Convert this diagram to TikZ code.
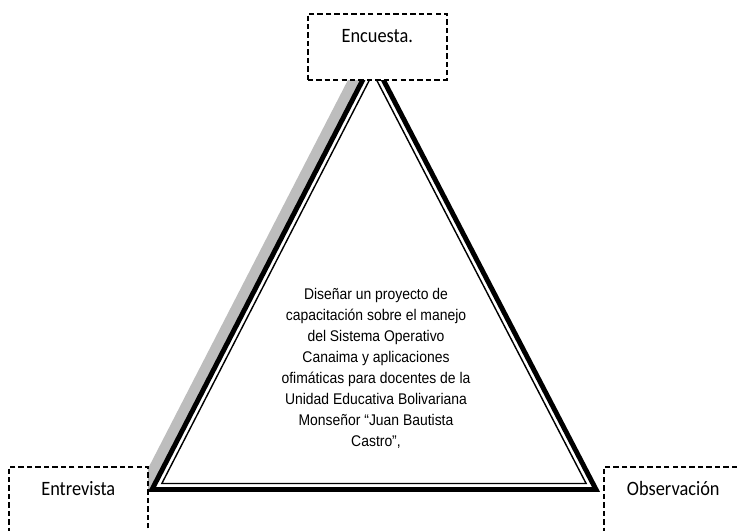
\documentclass[tikz,border=0pt]{standalone}
\usepackage{fontspec}
\setmainfont{Liberation Sans}
\newfontfamily\labelfont[FakeStretch=0.9]{Carlito}
\newfontfamily\goalfont[FakeStretch=0.9]{Liberation Sans}
\usetikzlibrary{calc}

\tikzset{
  method/.style={draw, dash pattern=on 3.8pt off 2.2pt, line width=1.1pt, fill=white,
    minimum width=3.475cm, inner sep=0pt, text height=0.725cm, text depth=0.925cm,
    font=\labelfont\fontsize{14.5}{16}\selectfont},
  rim/.style={line width=3.5pt, line join=miter},
  shade/.style={rim, draw=black!26, fill=black!26},
  goal/.style={align=center, font=\goalfont\fontsize{11}{14.9}\selectfont}
}

\begin{document}
\begin{tikzpicture}[x=0.025cm, y=-0.025cm]
    \useasboundingbox (0, 0) rectangle (738, 531);
    \clip (0, 0) rectangle (738, 531);

    \coordinate (top) at (373, 60);
    \coordinate (left) at (152, 489.5);
    \coordinate (right) at (596, 489.5);
    \coordinate (mid) at (373.5, 354.3);

    \pgfmathsetmacro{\inset}{0.9556}

    \draw[shade] ($(top)+(-12,0)$) -- ($(left)+(-12,0)$) -- ($(right)+(-12,0)$) -- cycle;
    \draw[rim, fill=white] (top) -- (left) -- (right) -- cycle;
    \draw[line width=1pt, line join=miter] ($(mid)!\inset!(top)$) -- ($(mid)!\inset!(left)$) -- ($(mid)!\inset!(right)$) -- cycle;

    \node[goal] (goal) at (376, 368.5) {Diseñar un proyecto de\\capacitación sobre el manejo\\del Sistema Operativo\\Canaima y aplicaciones\\ofimáticas para docentes de la\\Unidad Educativa Bolivariana\\Monseñor “Juan Bautista\\Castro”,};

    \node[method, anchor=north west] (survey) at (307, 13) {Encuesta.};
    \node[method, anchor=north west] (interview) at (8, 466) {Entrevista};
    \node[method, anchor=north west] (watch) at (603, 466) {Observación};
\end{tikzpicture}
\end{document}
